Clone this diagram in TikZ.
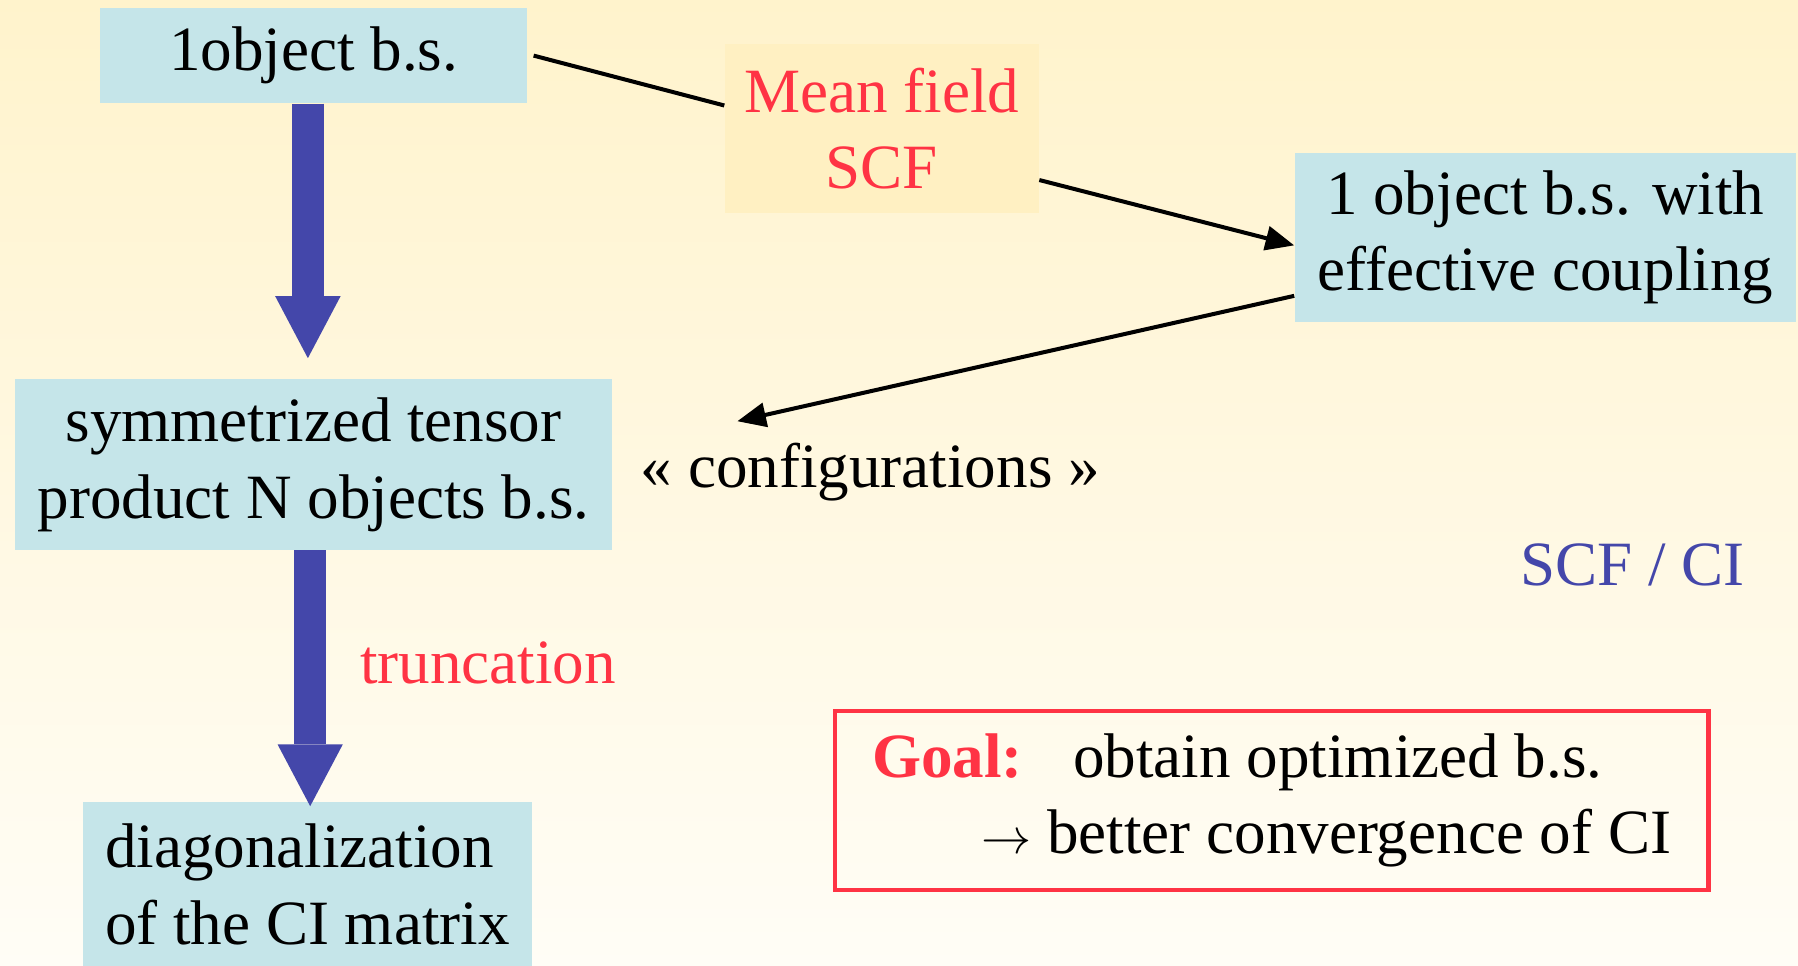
\documentclass[tikz,border=0pt]{standalone}
\usepackage{fontspec}
\setmainfont{Liberation Serif}
\usetikzlibrary{positioning,arrows.meta}
\definecolor{bgtop}{RGB}{255,243,204}
\definecolor{bgbot}{RGB}{255,253,246}
\definecolor{boxcyan}{RGB}{197,229,233}
\definecolor{mfyellow}{RGB}{255,240,194}
\definecolor{txtred}{RGB}{255,51,68}
\definecolor{arrblue}{RGB}{68,71,170}
\newcommand{\slidefont}{\fontsize{31.3}{38}\selectfont}
\tikzstyle{block} = [fill=boxcyan, align=center, inner sep=0pt, font=\slidefont]
\tikzstyle{txt} = [inner sep=0pt, font=\slidefont]
\tikzstyle{fat} = [draw=arrblue, line width=0.56cm, -{Triangle[length=1.08cm,width=1.14cm,line width=0pt]}]
\tikzstyle{link} = [draw, line width=0.07cm]
\tikzstyle{tip} = [-{Triangle[length=0.5cm,width=0.42cm]}]

\begin{document}
\begin{tikzpicture}
\shade [top color=bgtop, bottom color=bgbot] (0,0) rectangle (31.36,-16.84);
\useasboundingbox (0,0) rectangle (31.36,-16.84);
% left column
\node (onebs) [block, minimum width=7.46cm, minimum height=1.66cm] at (5.47,-0.97) {1object b.s.};
\node (tensor) [block, minimum width=10.42cm, minimum height=2.98cm, below=4.8cm of onebs] {symmetrized tensor\\product N objects b.s.};
\node (diag) [block, align=left, minimum width=7.84cm, minimum height=2.88cm, below=4.38cm of tensor, xshift=-0.11cm] {diagonalization\\of the CI matrix};
\draw [fat, shorten >=0.36cm] ([xshift=-0.1cm]onebs.south) -- ([xshift=-0.1cm]onebs.south |- tensor.north);
\draw [fat, shorten >=-0.08cm] ([xshift=-0.06cm]tensor.south) -- ([xshift=-0.06cm]tensor.south |- diag.north);
\node (trunc) [txt, text=txtred] at (8.51,-11.56) {truncation};
% mean field loop
\node (meanfield) [block, fill=mfyellow, text=txtred, minimum width=5.48cm, minimum height=2.96cm] at (15.38,-2.24) {Mean field\\SCF};
\node (coupling) [block, minimum width=8.74cm, minimum height=2.96cm] at (26.95,-4.14) {1 object b.s. with\\effective coupling};
\node (config) [txt] at (15.18,-8.24) {« configurations »};
\draw [link] ([xshift=0.1cm]onebs.east) -- ([yshift=0.4cm]meanfield.west);
\draw [link, tip] ([yshift=-0.9cm]meanfield.east) -- ([yshift=-0.14cm]coupling.west);
\draw [link, tip] ([yshift=-1.02cm]coupling.west) -- ([xshift=-2.32cm,yshift=0.38cm]config.north);
% right side
\node (scfci) [txt, text=arrblue] at (28.47,-9.86) {SCF / CI};
\node (goal) [txt, draw=txtred, line width=0.08cm, align=left, minimum width=15.24cm, minimum height=3.12cm] at (22.18,-13.96) {{\color{txtred}\bfseries Goal:}\hspace{0.88cm}obtain optimized b.s.\\\hspace*{1.9cm}$\rightarrow$ better convergence of CI};
\end{tikzpicture}
\end{document}
